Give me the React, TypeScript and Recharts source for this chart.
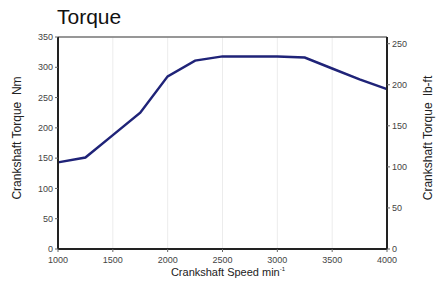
import { LineChart, Line, XAxis, YAxis, CartesianGrid, ReferenceLine } from 'recharts'

// engine speed (min-1) and crankshaft torque (Nm)
const rpm = [1000, 1250, 1500, 1750, 2000, 2250, 2500, 2750, 3000, 3250, 3500, 3750, 4000]
const torqueNm = [143, 151, 188, 225, 285, 311, 318, 318, 318, 316, 298, 280, 264]

const nmTicks = [0, 50, 100, 150, 200, 250, 300, 350]
const lbftTicks = [0, 50, 100, 150, 200, 250]
const rpmTicks = [1000, 1500, 2000, 2500, 3000, 3500, 4000]

const NM_PER_LBFT = 1.3558

const data = rpm.map((r, i) => ({ rpm: r, nm: torqueNm[i] }))

const tickStyle = { fill: '#444', fontSize: 9, fontFamily: '"Liberation Sans Narrow", "Liberation Sans", Arial, sans-serif' }
const labelFont = '"Liberation Sans Narrow", "Liberation Sans", Arial, sans-serif'

export default function App() {
  return (
    <div style={{ position: 'absolute', left: 0, top: 0, width: 438, height: 289, background: '#fff' }}>
      <div style={{ position: 'absolute', left: 57, top: 5, fontSize: 21, fontFamily: '"Liberation Sans", Arial, sans-serif', color: '#111' }}>
        Torque
      </div>
      <LineChart width={438} height={289} data={data} margin={{ top: 37, right: 11, left: 18, bottom: 20 }}>
        <CartesianGrid stroke="#ececec" strokeWidth={1} verticalValues={rpmTicks} />
        <XAxis
          dataKey="rpm"
          type="number"
          domain={[1000, 4000]}
          ticks={rpmTicks}
          tick={tickStyle}
          tickSize={3}
          tickMargin={5}
          height={20}
          axisLine={{ stroke: '#222', strokeWidth: 2 }}
          tickLine={{ stroke: '#666' }}
        />
        <YAxis
          yAxisId="nm"
          domain={[0, 350]}
          ticks={nmTicks}
          tick={tickStyle}
          tickSize={3}
          width={40}
          axisLine={{ stroke: '#222', strokeWidth: 2 }}
          tickLine={{ stroke: '#666' }}
        />
        <YAxis
          yAxisId="lbft"
          orientation="right"
          domain={[0, 350 / NM_PER_LBFT]}
          ticks={lbftTicks}
          tick={tickStyle}
          tickSize={3}
          width={40}
          allowDataOverflow
          axisLine={{ stroke: '#222', strokeWidth: 2 }}
          tickLine={{ stroke: '#666' }}
        />
        <ReferenceLine yAxisId="nm" y={350} stroke="#777" strokeWidth={1.5} />
        <Line
          yAxisId="nm"
          type="linear"
          dataKey="nm"
          stroke="#1f2378"
          strokeWidth={2.5}
          dot={false}
          isAnimationActive={false}
        />
      </LineChart>
      <div
        style={{
          position: 'absolute', left: 17, top: 138, fontSize: 12, fontFamily: labelFont, color: '#222',
          transform: 'translate(-50%, -50%) rotate(-90deg)', whiteSpace: 'nowrap',
        }}
      >
        Crankshaft Torque&nbsp;&nbsp;Nm
      </div>
      <div
        style={{
          position: 'absolute', left: 428, top: 138, fontSize: 12, fontFamily: labelFont, color: '#222',
          transform: 'translate(-50%, -50%) rotate(-90deg)', whiteSpace: 'nowrap',
        }}
      >
        Crankshaft Torque&nbsp;&nbsp;lb-ft
      </div>
      <div
        style={{
          position: 'absolute', left: 228, top: 272, fontSize: 11, fontFamily: labelFont, color: '#222',
          transform: 'translate(-50%, -50%)', whiteSpace: 'nowrap',
        }}
      >
        Crankshaft Speed min<sup style={{ fontSize: 6 }}>-1</sup>
      </div>
    </div>
  )
}
